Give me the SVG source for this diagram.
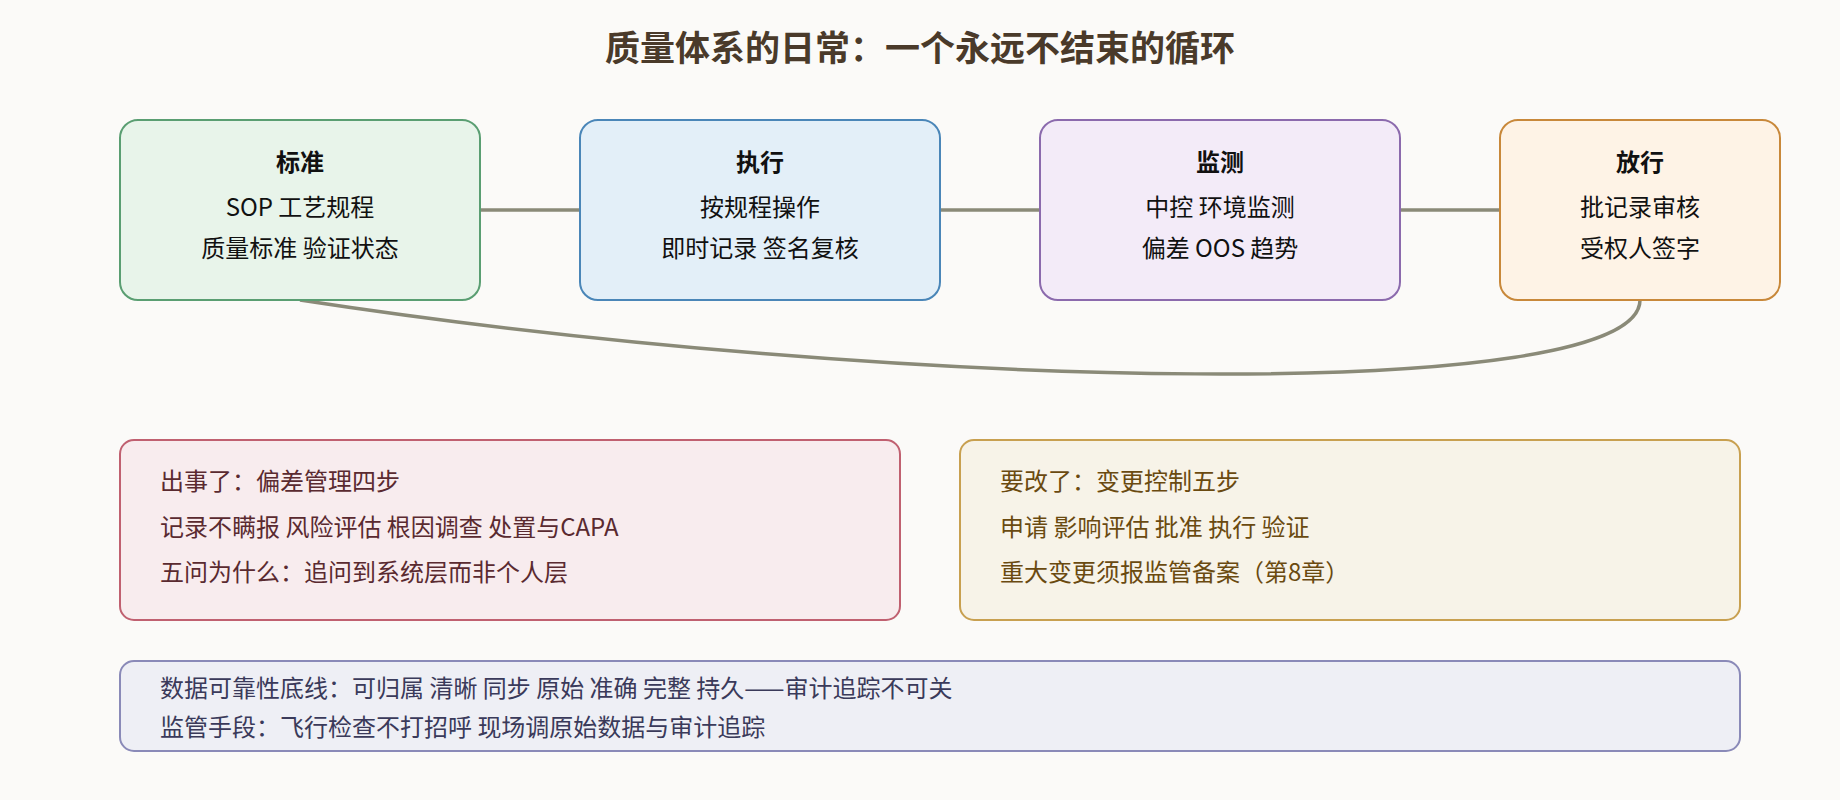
<svg xmlns="http://www.w3.org/2000/svg" width="1840" height="800" viewBox="0 0 1840 800">
<style>
text{font-family:"Noto Sans CJK SC","Noto Sans",sans-serif}
.t{font-size:35px;font-weight:bold;fill:#4a3a2a;text-anchor:middle}
.h{font-size:24px;font-weight:bold;fill:#111;text-anchor:middle}
.b{font-size:24px;fill:#111;text-anchor:middle}
.n{font-size:24px}
.c{stroke:#8a8a78;stroke-width:3.5;fill:none}
</style>
<rect width="1840" height="800" fill="#fbfaf8"/>
<text class="t" x="920" y="61">质量体系的日常：一个永远不结束的循环</text>
<g id="connectors">
<line class="c" x1="480" y1="210" x2="580" y2="210"/>
<line class="c" x1="940" y1="210" x2="1040" y2="210"/>
<line class="c" x1="1400" y1="210" x2="1500" y2="210"/>
<path class="c" d="M300,300 C900,392 1640,405 1640,300"/>
</g>
<g id="n1"><rect x="120" y="120" width="360" height="180" rx="18" fill="#e8f4ea" stroke="#5a9e72" stroke-width="2"/>
<text class="h" x="300" y="171">标准</text><text class="b" x="300" y="216">SOP 工艺规程</text><text class="b" x="300" y="257">质量标准 验证状态</text></g>
<g id="n2"><rect x="580" y="120" width="360" height="180" rx="18" fill="#e3eff8" stroke="#4a86b8" stroke-width="2"/>
<text class="h" x="760" y="171">执行</text><text class="b" x="760" y="216">按规程操作</text><text class="b" x="760" y="257">即时记录 签名复核</text></g>
<g id="n3"><rect x="1040" y="120" width="360" height="180" rx="18" fill="#f3ebf8" stroke="#8b6aad" stroke-width="2"/>
<text class="h" x="1220" y="171">监测</text><text class="b" x="1220" y="216">中控 环境监测</text><text class="b" x="1220" y="257">偏差 OOS 趋势</text></g>
<g id="n4"><rect x="1500" y="120" width="280" height="180" rx="18" fill="#fef3e6" stroke="#c8883a" stroke-width="2"/>
<text class="h" x="1640" y="171">放行</text><text class="b" x="1640" y="216">批记录审核</text><text class="b" x="1640" y="257">受权人签字</text></g>
<g id="dev"><rect x="120" y="440" width="780" height="180" rx="14" fill="#f8ecee" stroke="#c06070" stroke-width="2"/>
<g class="n" fill="#5a2a30"><text x="160" y="490">出事了：偏差管理四步</text><text x="160" y="536">记录不瞒报 风险评估 根因调查 处置与CAPA</text><text x="160" y="581">五问为什么：追问到系统层而非个人层</text></g></g>
<g id="chg"><rect x="960" y="440" width="780" height="180" rx="14" fill="#f7f3e8" stroke="#c8a050" stroke-width="2"/>
<g class="n" fill="#6a4a10"><text x="1000" y="490">要改了：变更控制五步</text><text x="1000" y="536">申请 影响评估 批准 执行 验证</text><text x="1000" y="581">重大变更须报监管备案（第8章）</text></g></g>
<g id="di"><rect x="120" y="661" width="1620" height="90" rx="14" fill="#eeeff5" stroke="#8a8ab8" stroke-width="2"/>
<g class="n" fill="#3a3a5a"><text x="160" y="697">数据可靠性底线：可归属 清晰 同步 原始 准确 完整 持久——审计追踪不可关</text><text x="160" y="736">监管手段：飞行检查不打招呼 现场调原始数据与审计追踪</text></g></g>
</svg>
